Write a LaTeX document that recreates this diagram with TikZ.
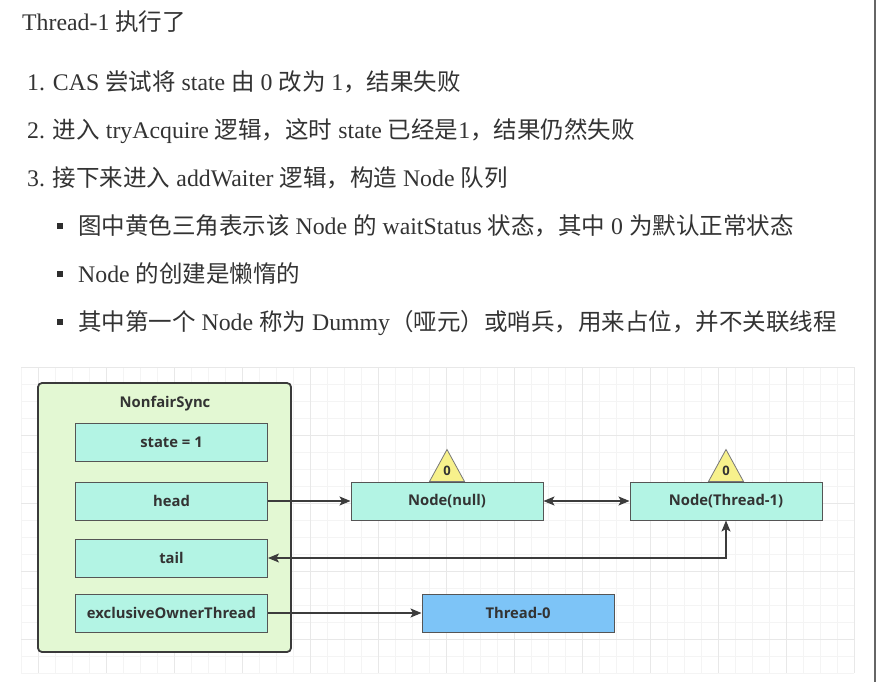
\documentclass[tikz,border=0pt]{standalone}
\usepackage{fontspec}
\setmainfont{Liberation Serif}
\newfontfamily\cjkfont{Noto Sans CJK SC}
\newfontfamily\diagfont{Open Sans}
\usetikzlibrary{arrows.meta}
\newcommand{\zh}[1]{{\cjkfont\fontsize{23.5}{23.5}\selectfont #1}}

\definecolor{txtgray}{HTML}{333333}
\definecolor{syncgreen}{HTML}{E3F8D3}
\definecolor{syncline}{HTML}{3A3A3A}
\definecolor{fieldcyan}{HTML}{B3F4E4}
\definecolor{fieldline}{HTML}{555555}
\definecolor{threadblue}{HTML}{7DC4F7}
\definecolor{flagyellow}{HTML}{F7F18C}
\definecolor{linkgray}{HTML}{3C3C3C}
\definecolor{gridminor}{HTML}{F4F4F4}
\definecolor{gridmajor}{HTML}{E8E8E8}

\tikzset{
    textline/.style={
        anchor=base west,
        inner sep=0pt,
        text=txtgray,
        font=\fontsize{23.8}{23.8}\selectfont
    },
    bulletsq/.style={
        rectangle,
        fill=txtgray!90!black,
        minimum size=6pt,
        inner sep=0pt
    },
    syncbox/.style={
        draw=syncline,
        fill=syncgreen,
        rounded corners=4pt,
        line width=1.8pt
    },
    fieldbox/.style={
        rectangle,
        draw=fieldline,
        fill=fieldcyan,
        minimum width=192pt,
        minimum height=38pt,
        line width=1pt,
        text=txtgray,
        font=\diagfont\bfseries\fontsize{14.8}{14.8}\selectfont
    },
    threadbox/.style={
        fieldbox,
        fill=threadblue
    },
    flagtri/.style={
        draw=fieldline!80,
        fill=flagyellow,
        line width=0.8pt,
        line join=miter
    },
    flagnum/.style={
        inner sep=0pt,
        text=txtgray,
        font=\diagfont\bfseries\fontsize{13}{13}\selectfont
    },
    link/.style={
        draw=linkgray,
        line width=1.1pt,
        -{Stealth[length=11pt, width=9pt, inset=2.5pt]}
    },
    dlink/.style={
        link,
        {Stealth[length=11pt, width=9pt, inset=2.5pt]}-{Stealth[length=11pt, width=9pt, inset=2.5pt]}
    }
}

\begin{document}
\begin{tikzpicture}[x=1pt, y=-1pt]
\useasboundingbox (0,0) rectangle (876,682);
\fill[white] (0,0) rectangle (876,682);
\draw[line width=1.5pt, gray!80!black] (875,0) -- (875,682);

% text above the diagram
\node[textline] (title) at (22,30.5) {Thread-1 \zh{执行了}};
\node[textline] (step1) at (27,90.5) {1. CAS \zh{尝试将} state \zh{由} 0 \zh{改为} 1\zh{，结果失败}};
\node[textline] (step2) at (27,138.5) {2. \zh{进入} tryAcquire \zh{逻辑，这时} state \zh{已经是}1\zh{，结果仍然失败}};
\node[textline] (step3) at (27,186.5) {3. \zh{接下来进入} addWaiter \zh{逻辑，构造} Node \zh{队列}};
\node[bulletsq] (dot1) at (60,226) {};
\node[textline] (note1) at (78,234.5) {\zh{图中黄色三角表示该} Node \zh{的} waitStatus \zh{状态，其中} 0 \zh{为默认正常状态}};
\node[bulletsq] (dot2) at (60,274) {};
\node[textline] (note2) at (78,282.5) {Node \zh{的创建是懒惰的}};
\node[bulletsq] (dot3) at (60,322) {};
\node[textline] (note3) at (78,330.5) {\zh{其中第一个} Node \zh{称为} Dummy\zh{（哑元）或哨兵，用来占位，并不关联线程}};

% background grid
\foreach \gx in {0,...,49}
    \draw[gridminor, line width=0.8pt] (21+17*\gx,367) -- (21+17*\gx,673);
\foreach \gy in {0,...,18}
    \draw[gridminor, line width=0.8pt] (21,367+17*\gy) -- (854,367+17*\gy);
\foreach \gx in {0,...,12}
    \draw[gridmajor, line width=0.8pt] (38+68*\gx,367) -- (38+68*\gx,673);
\foreach \gy in {0,...,4}
    \draw[gridmajor, line width=0.8pt] (21,367+68*\gy) -- (854,367+68*\gy);

% NonfairSync with its fields
\filldraw[syncbox] (38,383) rectangle (291,652);
\node[text=txtgray, font=\diagfont\bfseries\fontsize{14.8}{14.8}\selectfont] (sync) at (165,404) {NonfairSync};
\node[fieldbox] (state) at (171.5,442) {state = 1};
\node[fieldbox] (head) at (171.5,501) {head};
\node[fieldbox] (tail) at (171.5,558) {tail};
\node[fieldbox] (owner) at (171.5,613) {exclusiveOwnerThread};

% queue nodes and owner thread
\node[fieldbox] (nnull) at (447,501) {Node(null)};
\node[fieldbox] (nthread) at (726,501) {Node(Thread-1)};
\node[threadbox] (t0) at (518,613) {Thread-0};

% waitStatus flags
\filldraw[flagtri] ([xshift=-17.5pt]nnull.north) -- ([yshift=32pt]nnull.north) -- ([xshift=17.5pt]nnull.north) -- cycle;
\node[flagnum] (fnull) at ([yshift=11pt]nnull.north) {0};
\filldraw[flagtri] ([xshift=-17.5pt]nthread.north) -- ([yshift=32pt]nthread.north) -- ([xshift=17.5pt]nthread.north) -- cycle;
\node[flagnum] (fthread) at ([yshift=11pt]nthread.north) {0};

% links
\draw[link] (head) -- (nnull);
\draw[dlink] (nnull) -- (nthread);
\draw[dlink] (tail.east) -| (nthread.south);
\draw[link] (owner) -- (t0);

\end{tikzpicture}
\end{document}
